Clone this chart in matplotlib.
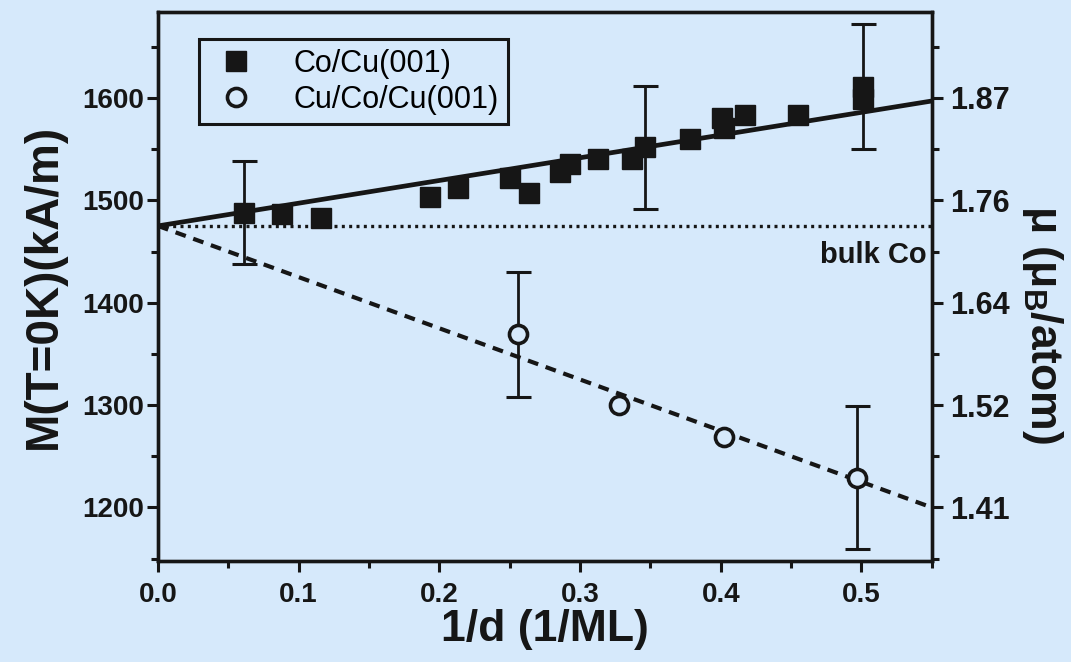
import matplotlib.pyplot as plt
from matplotlib.ticker import MultipleLocator

# Data
co_x = [0.061, 0.088, 0.116, 0.193, 0.213, 0.250, 0.264, 0.286, 0.293, 0.313,
        0.337, 0.346, 0.378, 0.401, 0.402, 0.4175, 0.455, 0.501, 0.501]
co_m = [1488, 1487, 1483, 1503, 1512, 1522, 1507, 1528, 1535, 1540,
        1540, 1552, 1560, 1580, 1571, 1583, 1583, 1599, 1611]
# error bars only on a few points
co_err_x = [0.061, 0.346, 0.501]
co_err_m = [1488, 1552, 1611]
co_err = [50, 60, 61]

cu_x = [0.256, 0.328, 0.402, 0.497]
cu_m = [1369, 1300, 1269, 1229]
cu_err_x = [0.256, 0.497]
cu_err_m = [1369, 1229]
cu_err = [61, 70]

# fit lines and bulk value
fit_x = [0.0, 0.55]
co_fit = [1475, 1597]
cu_fit = [1475, 1200]
bulk_m = 1475

left_ticks = [1200, 1300, 1400, 1500, 1600]
right_labels = ["1.41", "1.52", "1.64", "1.76", "1.87"]
x_ticks = [0.0, 0.1, 0.2, 0.3, 0.4, 0.5]

bg = "#d6e9fb"
ink = "#161616"

plt.rcParams['font.family'] = ['Liberation Sans', 'DejaVu Sans']
plt.rcParams['mathtext.fontset'] = 'custom'
plt.rcParams['mathtext.rm'] = 'Liberation Sans:bold'

fig = plt.figure(figsize=(10.71, 6.62), dpi=100, facecolor=bg)
ax = fig.add_axes([0.1475, 0.153, 0.7225, 0.829])
ax.set_facecolor(bg)

ax.plot(fit_x, co_fit, color=ink, lw=3.4, zorder=2)
ax.plot(fit_x, cu_fit, color=ink, lw=3.0, ls=(0, (2.6, 1.9)), zorder=2)
ax.axhline(bulk_m, color=ink, lw=2.4, ls=(0, (0.9, 1.3)), zorder=1)

ax.errorbar(co_err_x, co_err_m, yerr=co_err, fmt='none', ecolor=ink,
            elinewidth=2.0, capsize=9, capthick=2.2, zorder=3)
ax.errorbar(cu_err_x, cu_err_m, yerr=cu_err, fmt='none', ecolor=ink,
            elinewidth=2.0, capsize=9, capthick=2.2, zorder=3)

ax.plot(co_x, co_m, ls='none', marker='s', ms=15, color=ink,
        mec=ink, label="Co/Cu(001)", zorder=4)
ax.plot(cu_x, cu_m, ls='none', marker='o', ms=13, mfc=bg, mec=ink,
        mew=2.6, label="Cu/Co/Cu(001)", zorder=4)

ax.text(0.546, 1460, "bulk Co", ha='right', va='top', fontsize=21,
        fontweight='bold', color=ink)

ax.set_xlim(0, 0.55)
ax.set_ylim(1148, 1684)
ax.set_xticks(x_ticks)
ax.set_xticklabels([f"{v:.1f}" for v in x_ticks])
ax.xaxis.set_minor_locator(MultipleLocator(0.05))
ax.set_yticks(left_ticks)
ax.yaxis.set_minor_locator(MultipleLocator(50))

ax2 = ax.twinx()
ax2.set_ylim(ax.get_ylim())
ax2.set_yticks(left_ticks)
ax2.set_yticklabels(right_labels)
ax2.yaxis.set_minor_locator(MultipleLocator(50))

for a in (ax, ax2):
    for s in a.spines.values():
        s.set_linewidth(2.4)
        s.set_color(ink)
    a.tick_params(which='major', direction='out', length=8, width=2.2,
                  labelsize=20, colors=ink, pad=3)
    a.tick_params(which='minor', direction='out', length=5, width=2.2, colors=ink)
    for lab in a.get_xticklabels() + a.get_yticklabels():
        lab.set_fontweight('bold')
ax.tick_params(top=False, right=False, which='both')
ax.tick_params(axis='x', which='major', pad=7)
ax.tick_params(axis='y', which='major', pad=2)
ax2.tick_params(axis='y', which='major', labelsize=22, pad=5)

ax.set_xlabel("1/d (1/ML)", fontsize=32, fontweight='bold', color=ink, labelpad=1)
ax.set_ylabel("M(T=0K)(kA/m)", fontsize=33, fontweight='bold', color=ink, labelpad=12)
ax2.set_ylabel(r"μ (μ$_\mathrm{B}$/atom)", fontsize=32, fontweight='bold',
               color=ink, rotation=270, va='center')
ax2.yaxis.set_label_coords(1.143, 0.43)

leg = ax.legend(loc='upper left', bbox_to_anchor=(0.053, 0.95), fontsize=22,
                frameon=True, fancybox=False, handletextpad=1.0,
                borderpad=0.3, labelspacing=0.2, handlelength=1.8,
                borderaxespad=0)
leg.get_frame().set_edgecolor(ink)
leg.get_frame().set_linewidth(2.2)
leg.get_frame().set_facecolor(bg)
leg.get_frame().set_alpha(1)

fig.savefig("out.png", dpi=100, facecolor=bg)
